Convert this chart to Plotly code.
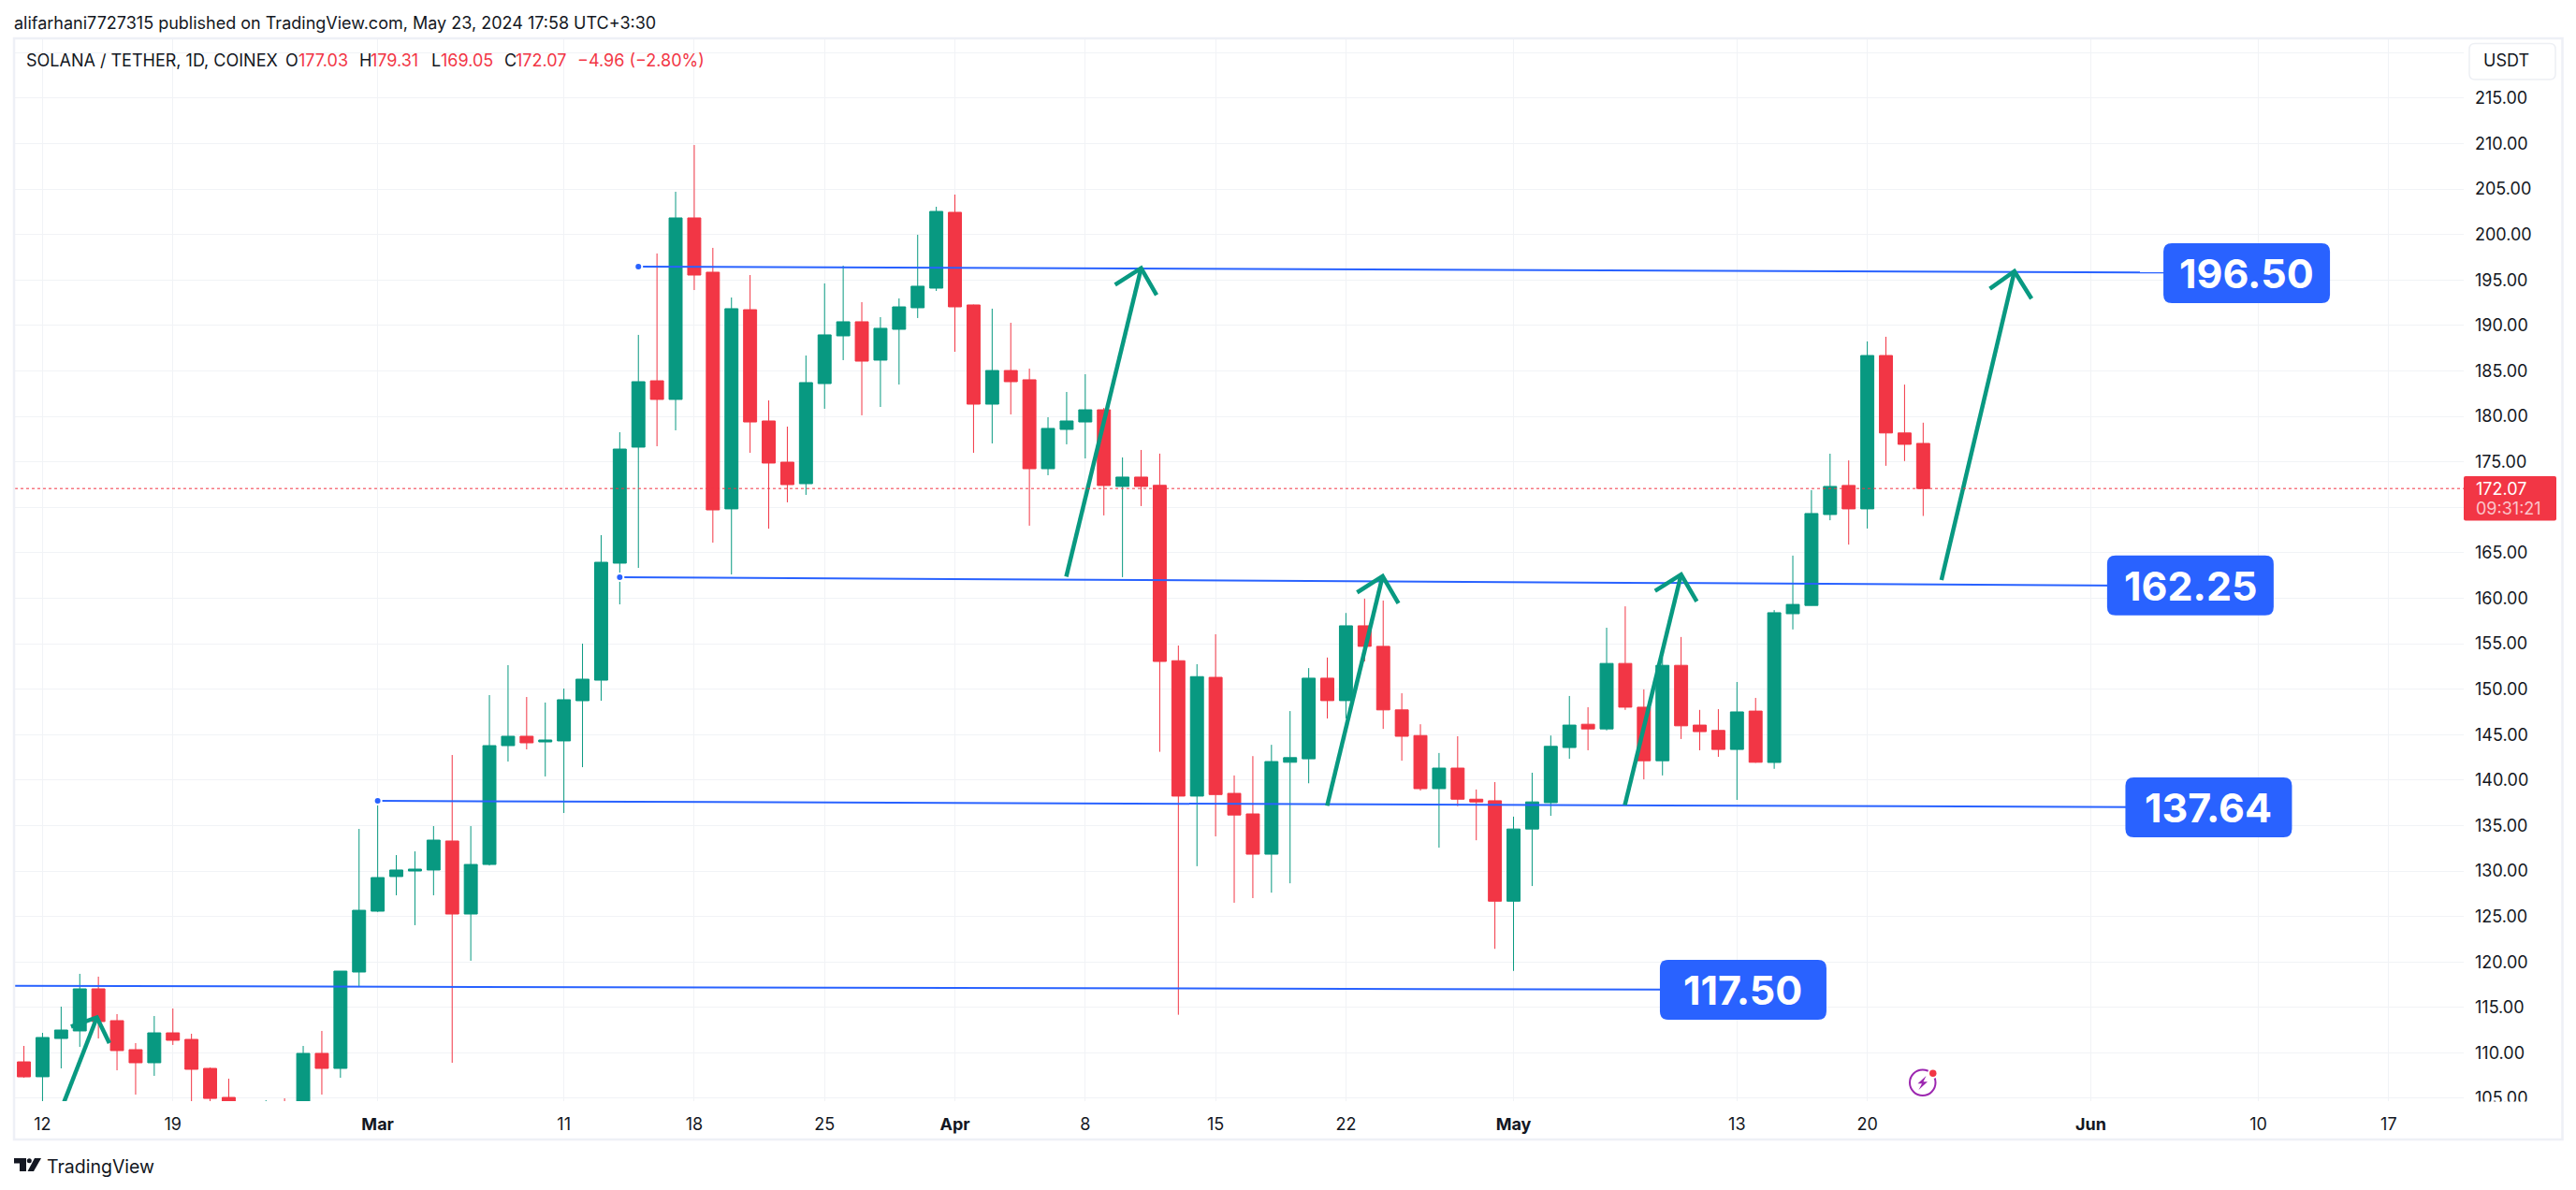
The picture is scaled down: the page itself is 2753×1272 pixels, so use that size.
import pandas as pd
import plotly.graph_objects as go

# ---------- data ----------
start_date = "2024-02-11"
end_date = "2024-05-23"

opens = [109.01,107.37,111.58,112.41,117.04,113.54,110.35,108.91,112.20,111.48,108.29,105.10,103.20,102.60,104.10,102.90,109.94,108.29,118.89,
         125.58,129.39,130.00,130.11,133.30,125.27,130.72,143.79,144.82,144.20,144.31,148.73,150.99,163.86,176.62,183.92,181.87,201.83,195.86,169.83,191.74,179.50,174.97,172.60,183.61,188.86,190.41,186.19,189.58,191.95,194.11,
         202.45,192.26,181.35,185.05,184.03,174.25,178.57,179.39,180.73,172.30,173.33,172.42,153.13,138.24,151.30,138.54,136.28,131.85,141.96,142.34,151.21,148.74,156.97,154.71,147.72,144.90,139.06,141.32,137.90,137.73,
         126.68,134.62,137.52,143.58,146.14,145.63,152.83,148.02,142.13,152.62,146.05,145.46,143.37,147.59,141.94,158.30,159.21,169.21,172.41,169.83,186.70,178.18,177.03]
highs = [110.76,112.20,115.08,118.69,118.38,114.26,111.07,114.05,114.88,112.10,108.39,107.16,104.40,104.80,105.00,110.76,112.41,118.99,134.63,
         137.72,131.75,132.16,134.94,142.76,134.94,149.35,152.64,149.14,148.53,150.07,155.01,166.94,178.26,188.97,197.92,204.71,209.85,198.54,193.08,195.55,181.76,178.88,186.70,194.63,196.58,192.57,190.92,192.98,199.98,203.06,
         204.40,192.30,191.85,190.30,185.26,179.91,182.69,184.64,180.94,175.49,176.31,175.91,154.80,152.75,156.04,140.51,142.64,143.88,147.59,152.32,153.48,158.38,159.96,159.75,149.55,146.14,142.98,144.82,138.97,139.78,
         135.98,140.81,144.90,149.25,148.02,156.76,159.11,149.98,153.48,155.74,147.72,147.80,150.79,149.04,158.70,164.69,171.89,175.90,175.16,188.25,188.76,183.50,179.31]
lows = [107.26,104.50,108.29,110.66,111.58,108.08,105.41,107.47,110.87,104.50,104.20,101.50,101.80,102.00,102.20,102.30,105.41,107.26,117.24,
        125.50,127.33,124.04,127.33,108.91,120.13,130.60,142.04,143.38,140.40,136.38,141.42,148.73,159.33,163.34,176.72,178.47,193.90,166.12,162.62,176.00,167.65,170.55,171.37,180.84,186.19,180.12,181.04,183.51,190.82,193.80,
        187.11,176.00,177.03,180.22,167.98,173.53,176.93,175.38,169.11,162.32,170.14,143.11,114.19,130.53,133.81,126.51,127.02,127.62,128.65,139.65,146.78,146.78,153.05,145.63,142.13,138.84,132.57,137.13,133.38,121.44,
        119.01,128.35,136.07,142.34,143.28,145.46,147.72,140.08,140.51,144.52,143.28,142.56,137.82,141.90,141.24,156.57,159.20,168.58,165.90,167.67,174.57,175.09,169.05]
closes = [107.36,111.69,112.51,117.04,113.44,110.25,108.91,112.20,111.38,108.19,104.99,103.20,102.60,104.10,102.90,109.94,108.29,118.99,125.68,
          129.28,130.11,130.21,133.40,125.27,130.72,143.79,144.82,144.10,144.41,148.84,151.10,163.96,176.41,183.82,181.87,201.83,195.55,169.72,191.85,179.39,174.87,172.50,183.72,188.97,190.41,186.08,189.69,192.05,194.32,202.55,
          192.05,181.35,185.05,183.82,174.25,178.68,179.50,180.73,172.40,173.33,172.30,153.05,138.24,151.38,138.41,136.16,131.85,142.04,142.47,151.21,148.74,156.97,154.71,147.72,144.82,139.06,141.32,137.90,137.60,126.68,
          134.62,137.60,143.71,146.05,145.63,152.83,148.02,142.13,152.62,145.97,145.33,143.37,147.50,141.96,158.41,159.32,169.32,172.30,169.83,186.70,178.18,176.93,172.07]

price_ticks = list(range(105, 221, 5))
hidden_price_labels = [170, 220]
price_labels = ["" if p in hidden_price_labels else f"{p:.2f}" for p in price_ticks]
time_ticks = ["2024-02-12","2024-02-19","2024-03-01","2024-03-11","2024-03-18","2024-03-25","2024-04-01","2024-04-08",
              "2024-04-15","2024-04-22","2024-05-01","2024-05-13","2024-05-20","2024-06-01","2024-06-10","2024-06-17"]
time_labels = ["12","19","<b>Mar</b>","11","18","25","<b>Apr</b>","8","15","22","<b>May</b>","13","20","<b>Jun</b>","10","17"]

last_price = 172.07

level_names = ["196.50","162.25","137.64","117.50"]
level_x0 = ["2024-03-15","2024-03-14","2024-03-01","2024-02-10"]
level_x1 = ["2024-06-06","2024-06-03","2024-06-04","2024-05-10"]
level_y0 = [196.48,162.32,137.72,117.37]
level_y1 = [195.82,161.40,137.02,116.96]
label_x = ["2024-06-09 09:00","2024-06-06 08:24","2024-06-07 08:00","2024-05-13 08:00"]
label_y = [195.76,161.42,137.00,116.93]
label_w = [178,178,178,178]

arrow_days = [[0.23,2.92],[54.98,59.0],[68.99,71.97],[84.98,88.0],[101.98,105.9]]
arrow_prices = [[99.7,113.9],[162.38,196.3],[137.18,162.43],[137.26,162.6],[162.01,195.96]]
head_left_days = [1.53,57.6,70.6,86.6,104.58]
head_left_prices = [112.88,194.49,160.64,160.81,194.05]
head_right_days = [3.59,59.83,72.82,88.84,106.82]
head_right_prices = [111.07,193.36,159.45,159.66,192.95]

# ---------- style ----------
GREEN, RED, BLUE, INK = "#089981", "#F23645", "#2962FF", "#131722"
GRID, FRAME = "#F1F3F6", "#EEF0F6"
FONT = "Inter"
W, H = 2753, 1272
L, R, T, B = 16, 2633, 42, 1177

def px(x): return (x - L) / (R - L)
def py(y): return 1 - (y - T) / (B - T)
def day(d): return pd.Timestamp("2024-02-12") + pd.Timedelta(days=d)

dates = pd.date_range(start_date, end_date, freq="D")
fig = go.Figure()

# levels
for n, x0, x1, y0, y1 in zip(level_names, level_x0, level_x1, level_y0, level_y1):
    fig.add_trace(go.Scatter(x=[x0, x1], y=[y0, y1], mode="lines", line=dict(color=BLUE, width=2),
                             hoverinfo="skip", showlegend=False))
fig.add_trace(go.Scatter(x=level_x0[:3], y=level_y0[:3], mode="markers",
                         marker=dict(color=BLUE, size=8, line=dict(color="white", width=2)),
                         hoverinfo="skip", showlegend=False))

# arrows
for i in range(len(arrow_days)):
    fig.add_trace(go.Scatter(
        x=[day(arrow_days[i][0]), day(arrow_days[i][1]), None, day(head_left_days[i]), day(arrow_days[i][1]), day(head_right_days[i])],
        y=[arrow_prices[i][0], arrow_prices[i][1], None, head_left_prices[i], arrow_prices[i][1], head_right_prices[i]],
        mode="lines", line=dict(color=GREEN, width=4.5), hoverinfo="skip", showlegend=False))

# candles
fig.add_trace(go.Candlestick(
    x=dates, open=opens, high=highs, low=lows, close=closes,
    increasing=dict(line=dict(color=GREEN, width=1), fillcolor=GREEN),
    decreasing=dict(line=dict(color=RED, width=1), fillcolor=RED),
    whiskerwidth=0, hoverinfo="skip", showlegend=False))

shapes = []
# last price line
shapes.append(dict(type="line", xref="paper", yref="y", x0=0, x1=1, y0=last_price, y1=last_price,
                   line=dict(color=RED, width=1, dash="dot"), layer="above"))

def rr(x0, y0, x1, y1, r):
    return (f"M {px(x0+r)} {py(y0)} L {px(x1-r)} {py(y0)} Q {px(x1)} {py(y0)} {px(x1)} {py(y0+r)} "
            f"L {px(x1)} {py(y1-r)} Q {px(x1)} {py(y1)} {px(x1-r)} {py(y1)} "
            f"L {px(x0+r)} {py(y1)} Q {px(x0)} {py(y1)} {px(x0)} {py(y1-r)} "
            f"L {px(x0)} {py(y0+r)} Q {px(x0)} {py(y0)} {px(x0+r)} {py(y0)} Z")

# level label boxes anchored on data
for lx, ly, lw in zip(label_x, label_y, label_w):
    hw, hh, r = lw / 2, 32, 9
    p = (f"M {-hw+r} {-hh} L {hw-r} {-hh} Q {hw} {-hh} {hw} {-hh+r} L {hw} {hh-r} Q {hw} {hh} {hw-r} {hh} "
         f"L {-hw+r} {hh} Q {-hw} {hh} {-hw} {hh-r} L {-hw} {-hh+r} Q {-hw} {-hh} {-hw+r} {-hh} Z")
    shapes.append(dict(type="path", xref="x", yref="y", xsizemode="pixel", ysizemode="pixel",
                       xanchor=lx, yanchor=ly, path=p, fillcolor=BLUE, line=dict(width=0), layer="above"))

# the price scale is cut off where the time scale starts
shapes.append(dict(type="rect", xref="paper", yref="paper", x0=px(2634), x1=px(2736), y0=py(1177.5), y1=py(1216),
                   fillcolor="white", line=dict(width=0), layer="above"))
# frame
shapes.append(dict(type="rect", xref="paper", yref="paper", x0=px(15), x1=px(2738.5), y0=py(41), y1=py(1218),
                   line=dict(color=FRAME, width=2.5), layer="above"))
# price badge
shapes.append(dict(type="path", xref="paper", yref="paper", path=rr(2633, 509, 2732, 556.5, 2),
                   fillcolor=RED, line=dict(width=0), layer="above"))
# USDT button
shapes.append(dict(type="path", xref="paper", yref="paper", path=rr(2639, 46.5, 2731, 85, 6),
                   fillcolor="white", line=dict(color="#EDEFF4", width=1.5), layer="above"))

# logo
def poly(points):
    return "M " + " L ".join(f"{px(a)} {py(b)}" for a, b in points) + " Z"
shapes.append(dict(type="path", xref="paper", yref="paper", path=poly([(15,1238),(28,1238),(28,1252),(21,1252),(21,1243.5),(15,1243.5)]),
                   fillcolor=INK, line=dict(width=0), layer="above"))
shapes.append(dict(type="path", xref="paper", yref="paper", path=poly([(37,1238),(44,1238),(36,1252),(29.5,1252)]),
                   fillcolor=INK, line=dict(width=0), layer="above"))
shapes.append(dict(type="circle", xref="paper", yref="paper", x0=px(28.8), x1=px(33.8), y0=py(1238.3), y1=py(1243.3),
                   fillcolor=INK, line=dict(width=0), layer="above"))

# lightning icon
PURPLE = "#9C27B0"
shapes.append(dict(type="circle", xref="paper", yref="paper", x0=px(2041), x1=px(2068.5), y0=py(1143.5), y1=py(1171),
                   line=dict(color=PURPLE, width=2), fillcolor="rgba(0,0,0,0)", layer="above"))
shapes.append(dict(type="circle", xref="paper", yref="paper", x0=px(2060), x1=px(2071.5), y0=py(1141.5), y1=py(1153),
                   fillcolor="white", line=dict(width=0), layer="above"))
shapes.append(dict(type="circle", xref="paper", yref="paper", x0=px(2062), x1=px(2069.5), y0=py(1143.5), y1=py(1151),
                   fillcolor="#F23645", line=dict(width=0), layer="above"))
shapes.append(dict(type="path", xref="paper", yref="paper",
                   path=poly([(2058.5,1150),(2049.5,1158.2),(2054,1158.2),(2050.5,1165),(2060,1156.2),(2055.5,1156.2)]),
                   fillcolor=PURPLE, line=dict(width=0), layer="above"))

annotations = []
def text(s, x, y, size=18, color=INK, anchor="left", weight=None):
    annotations.append(dict(text=s, xref="paper", yref="paper", x=px(x), y=py(y), xanchor=anchor, yanchor="middle",
                            showarrow=False, borderpad=0, borderwidth=0,
                            font=dict(family=FONT, size=size, color=color, weight=weight)))

text("alifarhani7727315 published on TradingView.com, May 23, 2024 17:58 UTC+3:30", 15, 24, 18)
text("SOLANA / TETHER, 1D, COINEX", 27.5, 65, 18)
for s, x, c in [("O",305.4,INK),(f"{opens[-1]:.2f}",318.6,RED),("H",383.5,INK),(f"{highs[-1]:.2f}",396,RED),
                ("L",461,INK),(f"{lows[-1]:.2f}",470.7,RED),("C",539,INK),(f"{closes[-1]:.2f}",551,RED),
                ("−4.96 (−2.80%)",617,RED)]:
    text(s, x, 65, 18, c)
text("USDT", 2654, 65, 18)
text(f"{last_price:.2f}", 2646, 522.5, 18, "white")
text("09:31:21", 2646, 543, 18, "#FBC4CA")
text("TradingView", 50, 1247, 19.5, INK)
for n, lx, ly in zip(level_names, label_x, label_y):
    annotations.append(dict(text=n, xref="x", yref="y", x=lx, y=ly, xanchor="center", yanchor="middle",
                            showarrow=False, font=dict(family=FONT, size=43, color="white", weight=700)))

fig.update_layout(
    width=W, height=H, autosize=False,
    margin=dict(l=L, r=W - R, t=T, b=H - B, pad=0),
    paper_bgcolor="white", plot_bgcolor="white",
    font=dict(family=FONT, size=18, color=INK),
    showlegend=False, boxgap=0.3, boxgroupgap=0, hovermode=False,
    shapes=shapes, annotations=annotations,
    xaxis=dict(type="date", range=["2024-02-10 12:29", "2024-06-21 00:43"], rangeslider=dict(visible=False),
               tickmode="array", tickvals=time_ticks, ticktext=time_labels, showgrid=True, gridcolor=GRID, gridwidth=1,
               zeroline=False, showline=False, ticks="", ticklabelstandoff=12, tickfont=dict(family=FONT, size=18, color=INK)),
    yaxis=dict(side="right", range=[104.69, 221.48], tickmode="array", tickvals=price_ticks, ticktext=price_labels,
               showgrid=True, gridcolor=GRID, gridwidth=1, zeroline=False, showline=False, ticks="",
               ticklabelstandoff=11, tickfont=dict(family=FONT, size=18, color=INK)),
)
fig.write_html("out.html", config=dict(displayModeBar=False), post_script="document.body.style.margin='0';")
